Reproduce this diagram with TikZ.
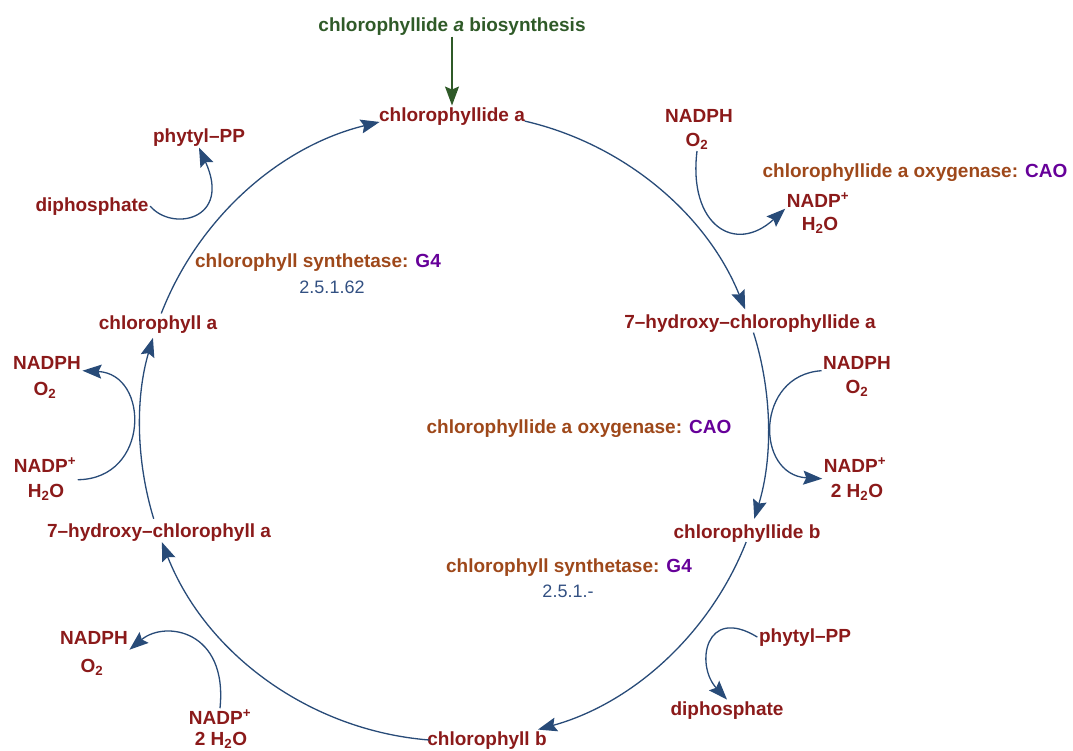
\documentclass[tikz,border=0pt]{standalone}
\usepackage{fontspec}
\setmainfont{Liberation Sans}
\usetikzlibrary{arrows.meta,calc}
\definecolor{cmp}{RGB}{139,26,26}
\definecolor{enzc}{RGB}{158,72,26}
\definecolor{purp}{RGB}{102,0,153}
\definecolor{titlec}{RGB}{47,90,40}
\definecolor{linec}{RGB}{40,75,120}
\definecolor{ecc}{RGB}{50,80,130}
\begin{document}
\begin{tikzpicture}[x=1pt,y=-1pt,
  lbl/.style={anchor=base, inner sep=1.5pt, font=\fontsize{19}{22}\selectfont\bfseries, text=cmp},
  enz/.style={anchor=base, inner sep=1.5pt, font=\fontsize{19}{22}\selectfont\bfseries, text=enzc},
  ec/.style={anchor=base, inner sep=1.5pt, font=\fontsize{18}{22}\selectfont, text=ecc},
  tip/.style={-{Stealth[length=19pt,width=14pt,inset=3pt]}},
  cyc/.style={draw=linec, line width=1.3pt, tip},
  side/.style={draw=linec, line width=1.3pt, tip}]
\useasboundingbox (0,0) rectangle (1073,750);
% labels
\node[lbl,text=titlec] (title) at (452,31) {chlorophyllide \textit{a} biosynthesis};
\node[lbl] (cpa) at (452,121) {chlorophyllide a};
\node[lbl] (nadphTR) at (699,122) {NADPH};
\node[lbl] (o2TR) at (697,146) {O\textsubscript{2}};
\node[enz] (caoTR) at (915,177) {chlorophyllide a oxygenase: \textcolor{purp}{CAO}};
\node[lbl] (nadpTR) at (818,207) {NADP\textsuperscript{+}};
\node[lbl] (h2oTR) at (820,230) {H\textsubscript{2}O};
\node[lbl] (phyTL) at (199,142) {phytyl–PP};
\node[lbl] (dpTL) at (92,211) {diphosphate};
\node[enz] (synTL) at (318,267) {chlorophyll synthetase: \textcolor{purp}{G4}};
\node[ec] (ecTL) at (332,293) {2.5.1.62};
\node[lbl] (chla) at (158,329) {chlorophyll a};
\node[lbl] (hcpa) at (750,328) {7–hydroxy–chlorophyllide a};
\node[lbl] (nadphR) at (857,369) {NADPH};
\node[lbl] (o2R) at (857,393) {O\textsubscript{2}};
\node[enz] (caoM) at (579,433) {chlorophyllide a oxygenase: \textcolor{purp}{CAO}};
\node[lbl] (nadpR) at (855,472) {NADP\textsuperscript{+}};
\node[lbl] (h2oR) at (857,497) {2 H\textsubscript{2}O};
\node[lbl] (nadphL) at (47,369) {NADPH};
\node[lbl] (o2L) at (45,395) {O\textsubscript{2}};
\node[lbl] (nadpL) at (45,472) {NADP\textsuperscript{+}};
\node[lbl] (h2oL) at (46,497) {H\textsubscript{2}O};
\node[lbl] (hcha) at (159,537) {7–hydroxy–chlorophyll a};
\node[lbl] (cpb) at (747,538) {chlorophyllide b};
\node[enz] (synM) at (569,572) {chlorophyll synthetase: \textcolor{purp}{G4}};
\node[ec] (ecM) at (568,597) {2.5.1.-};
\node[lbl] (phyBR) at (805,642) {phytyl–PP};
\node[lbl] (dpBR) at (727,715) {diphosphate};
\node[lbl] (chlb) at (487,745) {chlorophyll b};
\node[lbl] (nadphBL) at (94,644) {NADPH};
\node[lbl] (o2BL) at (92,672) {O\textsubscript{2}};
\node[lbl] (nadpBL) at (220,724) {NADP\textsuperscript{+}};
\node[lbl] (h2oBL) at (221,745) {2 H\textsubscript{2}O};
% input arrow
\draw[draw=titlec, line width=1.4pt, tip] (title.south) -- (cpa.north);
% cycle arcs
\def\R{314pt}
\coordinate (c) at (454,427);
\coordinate (a1) at ($(c)+(77:\R)$);
\coordinate (a2) at ($(c)+(17.5:\R)$);
\coordinate (a3) at ($(c)+(-21.5:\R)$);
\coordinate (a4) at ($(c)+(-94.5:\R)$);
\coordinate (a5) at ($(c)+(197:\R)$);
\coordinate (a6) at ($(c)+(158.8:\R)$);
\draw[cyc] (a1) arc[start angle=77, end angle=22, radius=\R];
\draw[cyc] (a2) arc[start angle=17.5, end angle=-17, radius=\R];
\draw[cyc] (a3) arc[start angle=-21.5, end angle=-74.5, radius=\R];
\draw[cyc] (a4) arc[start angle=-94.5, end angle=-158.5, radius=\R];
\draw[cyc] (a5) arc[start angle=197, end angle=163.5, radius=\R];
\draw[cyc] (a6) arc[start angle=158.8, end angle=103.7, radius=\R];
% side reactions
\draw[side] (o2TR.south) .. controls (688,225) and (735,255) .. (nadpTR.south west);
\draw[side] (dpTL.east) .. controls (172,232) and (232,220) .. (phyTL.south);
\draw[side] (nadphR.south west) .. controls (755,375) and (755,475) .. ([yshift=-5pt]nadpR.south west);
\draw[side] ([yshift=-6pt]nadpL.south east) .. controls (150,479) and (150,374) .. (nadphL.south east);
\draw[side] (nadpBL.north) .. controls (228,630) and (165,620) .. ([yshift=-4pt]nadphBL.south east);
\draw[side] (phyBR.west) .. controls (705,605) and (695,665) .. (dpBR.north);
\end{tikzpicture}
\end{document}
